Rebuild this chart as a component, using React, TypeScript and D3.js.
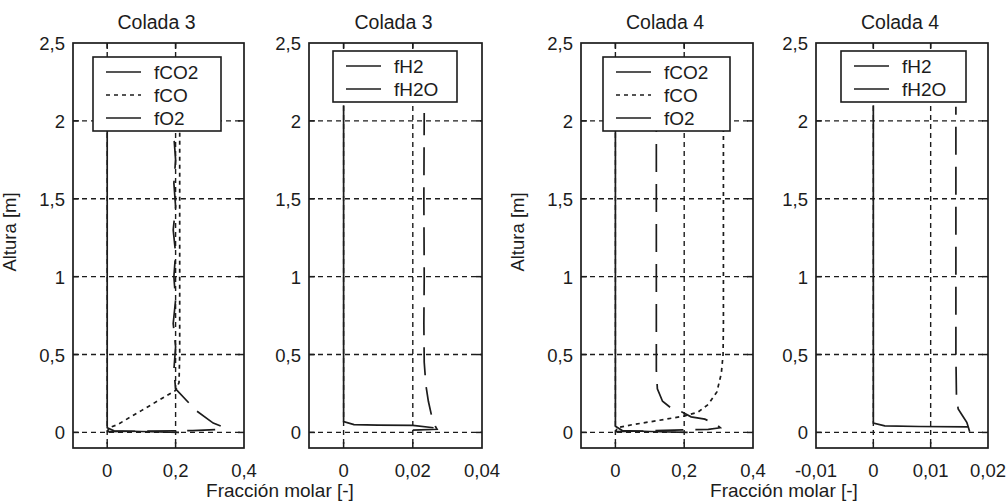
import React from "react";
import * as d3 from "d3";

// ---- data (x = molar fraction, h = height in m) ----
const colada3_fCO2: [number, number][] = [
  [0, 0.005], [0.1, 0.008], [0.25, 0.012], [0.33, 0.02], [0.34, 0.035], [0.31, 0.06],
  [0.26, 0.14], [0.2, 0.28], [0.195, 0.4], [0.2, 0.55], [0.193, 0.7], [0.2, 0.85],
  [0.195, 1.0], [0.2, 1.15], [0.193, 1.3], [0.2, 1.45], [0.195, 1.6], [0.2, 1.75],
  [0.195, 1.9], [0.2, 2.1],
];
const colada3_fCO: [number, number][] = [
  [0, 0], [0.005, 0.03], [0.03, 0.05], [0.1, 0.14], [0.2, 0.27], [0.21, 0.32],
  [0.212, 0.5], [0.212, 1.0], [0.212, 2.1],
];
const colada3_fO2: [number, number][] = [
  [0.21, 0], [0.1, 0.006], [0.02, 0.01], [0, 0.03], [0, 2.1],
];
const colada3_fH2: [number, number][] = [
  [0.026, 0.03], [0.02, 0.045], [0.01, 0.047], [0.003, 0.05], [0, 0.07], [0, 2.1],
];
const colada3_fH2O: [number, number][] = [
  [0.02, 0.015], [0.027, 0.02], [0.0265, 0.04], [0.0255, 0.1], [0.0245, 0.2],
  [0.0238, 0.3], [0.0233, 0.45], [0.0232, 0.7], [0.0233, 1.0], [0.0232, 1.5], [0.0233, 2.05],
];
const colada4_fCO2: [number, number][] = [
  [0, 0.005], [0.1, 0.01], [0.27, 0.02], [0.305, 0.03], [0.295, 0.05], [0.26, 0.085],
  [0.22, 0.1], [0.195, 0.13], [0.16, 0.16], [0.137, 0.2], [0.122, 0.28], [0.119, 0.4],
  [0.119, 1.0], [0.119, 1.5], [0.119, 2.1],
];
const colada4_fCO: [number, number][] = [
  [0, 0], [0.005, 0.03], [0.05, 0.05], [0.12, 0.075], [0.2, 0.105], [0.24, 0.13],
  [0.27, 0.18], [0.295, 0.26], [0.308, 0.38], [0.313, 0.5], [0.314, 0.7], [0.314, 2.1],
];
const colada4_fO2: [number, number][] = [
  [0.21, 0], [0.1, 0.006], [0.02, 0.012], [0, 0.04], [0, 2.1],
];
const colada4_fH2: [number, number][] = [
  [0.0165, 0.035], [0.008, 0.038], [0.002, 0.042], [0, 0.06], [0, 2.1],
];
const colada4_fH2O: [number, number][] = [
  [0.0168, 0.005], [0.0166, 0.03], [0.0163, 0.065], [0.0155, 0.11], [0.0148, 0.15],
  [0.0145, 0.23], [0.0144, 0.5], [0.0144, 1.0], [0.0144, 1.5], [0.0144, 2.09],
];

const yTicks = [0, 0.5, 1, 1.5, 2, 2.5];
const xTicksCO = [0, 0.2, 0.4];
const xTicksH3 = [0, 0.02, 0.04];
const xTicksH4 = [-0.01, 0, 0.01, 0.02];
const titles = ["Colada 3", "Colada 3", "Colada 4", "Colada 4"];
const legendCO = ["fCO2", "fCO", "fO2"];
const legendH = ["fH2", "fH2O"];

// ---- styles ----
const INK = "#1c1c1c";
const FONT = "'Liberation Sans', Arial, sans-serif";
const LONG = "28,12";
const SHORT = "4,4";
const GRID = "5,4";

type Series = { name: string; data: [number, number][]; dash: string | null };
type Panel = {
  title: string; left: number; right: number; xDomain: [number, number];
  xTicks: number[]; series: Series[]; legendX: number; legendW: number; yLabel: boolean;
};

const panels: Panel[] = [
  {
    title: titles[0], left: 73, right: 244, xDomain: [-0.1, 0.4], xTicks: xTicksCO,
    series: [
      { name: legendCO[0], data: colada3_fCO2, dash: LONG },
      { name: legendCO[1], data: colada3_fCO, dash: SHORT },
      { name: legendCO[2], data: colada3_fO2, dash: null },
    ], legendX: 93, legendW: 128, yLabel: true,
  },
  {
    title: titles[1], left: 309, right: 482, xDomain: [-0.01, 0.04], xTicks: xTicksH3,
    series: [
      { name: legendH[0], data: colada3_fH2, dash: null },
      { name: legendH[1], data: colada3_fH2O, dash: LONG },
    ], legendX: 333, legendW: 124, yLabel: false,
  },
  {
    title: titles[2], left: 581, right: 753, xDomain: [-0.1, 0.4], xTicks: xTicksCO,
    series: [
      { name: legendCO[0], data: colada4_fCO2, dash: LONG },
      { name: legendCO[1], data: colada4_fCO, dash: SHORT },
      { name: legendCO[2], data: colada4_fO2, dash: null },
    ], legendX: 603, legendW: 127, yLabel: true,
  },
  {
    title: titles[3], left: 816, right: 988, xDomain: [-0.01, 0.02], xTicks: xTicksH4,
    series: [
      { name: legendH[0], data: colada4_fH2, dash: null },
      { name: legendH[1], data: colada4_fH2O, dash: LONG },
    ], legendX: 841, legendW: 125, yLabel: false,
  },
];

const TOP = 43;
const BOTTOM = 448;
const fmt = (v: number) => String(Math.round(v * 1e6) / 1e6).replace(".", ",");

function PanelView({ p }: { p: Panel }) {
  const x = d3.scaleLinear().domain(p.xDomain).range([p.left, p.right]);
  const y = d3.scaleLinear().domain([-0.1, 2.5]).range([BOTTOM, TOP]);
  const line = d3.line<[number, number]>().x((d) => x(d[0])).y((d) => y(d[1]));
  const n = p.series.length;
  const legendY = p.title.endsWith("3") || p.title.endsWith("4") ? (n === 3 ? 57 : 51) : 57;
  const legendH = 5 + 23 * n;
  const eps = 1e-9;
  const innerX = p.xTicks.filter((t) => t > p.xDomain[0] + eps && t < p.xDomain[1] - eps);
  const innerY = yTicks.filter((t) => t < 2.5 - eps);
  const clipId = `clip-${p.left}`;
  return (
    <g>
      <defs>
        <clipPath id={clipId}>
          <rect x={p.left} y={TOP} width={p.right - p.left} height={BOTTOM - TOP} />
        </clipPath>
      </defs>
      {/* grid */}
      <g stroke={INK} strokeWidth={1.4} strokeDasharray={GRID}>
        {innerX.map((t) => (
          <line key={"gx" + t} x1={x(t)} x2={x(t)} y1={TOP} y2={BOTTOM} />
        ))}
        {innerY.map((t) => (
          <line key={"gy" + t} x1={p.left} x2={p.right} y1={y(t)} y2={y(t)} />
        ))}
      </g>
      {/* ticks */}
      <g stroke={INK} strokeWidth={1.5}>
        {innerX.map((t) => (
          <g key={"tx" + t}>
            <line x1={x(t)} x2={x(t)} y1={TOP} y2={TOP + 6} />
            <line x1={x(t)} x2={x(t)} y1={BOTTOM} y2={BOTTOM - 6} />
          </g>
        ))}
        {innerY.map((t) => (
          <g key={"ty" + t}>
            <line x1={p.left} x2={p.left + 6} y1={y(t)} y2={y(t)} />
            <line x1={p.right} x2={p.right - 6} y1={y(t)} y2={y(t)} />
          </g>
        ))}
      </g>
      {/* data */}
      <g clipPath={`url(#${clipId})`} fill="none" stroke={INK} strokeWidth={1.7}>
        {p.series.map((s) => (
          <path key={s.name} d={line(s.data) || ""} strokeDasharray={s.dash || undefined} />
        ))}
      </g>
      {/* frame */}
      <rect x={p.left} y={TOP} width={p.right - p.left} height={BOTTOM - TOP}
        fill="none" stroke={INK} strokeWidth={1.7} />
      {/* legend */}
      <rect x={p.legendX} y={legendY} width={p.legendW} height={legendH}
        fill="#fff" stroke={INK} strokeWidth={1.6} />
      {p.series.map((s, i) => {
        const cy = legendY + 15 + 23 * i;
        return (
          <g key={"lg" + s.name}>
            <line x1={p.legendX + 13} x2={p.legendX + 48} y1={cy} y2={cy}
              stroke={INK} strokeWidth={1.6} strokeDasharray={s.dash === SHORT ? SHORT : undefined} />
            <text x={p.legendX + 61} y={cy + 7} fontSize={19} fontFamily={FONT} fill={INK}>
              {s.name}
            </text>
          </g>
        );
      })}
      {/* tick labels */}
      {yTicks.map((t) => (
        <text key={"yl" + t} x={p.left - 8} y={y(t) + 7} textAnchor="end"
          fontSize={18.5} fontFamily={FONT} fill={INK}>{fmt(t)}</text>
      ))}
      {p.xTicks.map((t) => (
        <text key={"xl" + t} x={x(t)} y={477} textAnchor="middle"
          fontSize={18.5} fontFamily={FONT} fill={INK}>{fmt(t)}</text>
      ))}
      <text x={(p.left + p.right) / 2 - 2} y={29} textAnchor="middle"
        fontSize={19.5} fontFamily={FONT} fill={INK}>{p.title}</text>
      {p.yLabel && (
        <text transform={`translate(${p.left - 57},232) rotate(-90)`} textAnchor="middle"
          fontSize={18.5} fontFamily={FONT} fill={INK}>Altura [m]</text>
      )}
    </g>
  );
}

export default function App() {
  return (
    <svg width={1008} height={503} style={{ position: "absolute", left: 0, top: 0, background: "#fff" }}>
      <rect width={1008} height={503} fill="#fff" />
      {panels.map((p) => (
        <PanelView key={p.left} p={p} />
      ))}
      <text x={280} y={497} textAnchor="middle" fontSize={19} fontFamily={FONT} fill={INK}>
        Fracción molar [-]
      </text>
      <text x={784} y={497} textAnchor="middle" fontSize={19} fontFamily={FONT} fill={INK}>
        Fracción molar [-]
      </text>
    </svg>
  );
}
